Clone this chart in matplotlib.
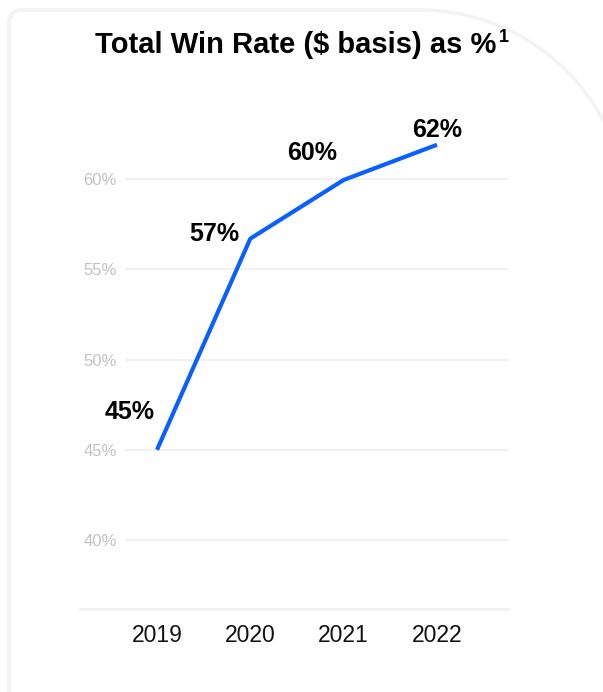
import numpy as np
import matplotlib
matplotlib.use("Agg")
import matplotlib.pyplot as plt
from matplotlib.lines import Line2D

plt.rcParams['font.family'] = ['Liberation Sans', 'DejaVu Sans']

# data
years = ["2019", "2020", "2021", "2022"]
win_rate = [45.0, 56.7, 59.95, 61.9]
point_labels = ["45%", "57%", "60%", "62%"]
y_ticks = [40, 45, 50, 55, 60]
tick_labels = ["40%", "45%", "50%", "55%", "60%"]

# label offsets from points, in pixels (style)
label_offsets = [(-27, 38), (-36, 5), (-32, 27), (0, 15)]

W, H = 603, 692
fig = plt.figure(figsize=(W / 100, H / 100), dpi=100)
fig.patch.set_facecolor("white")

# card outline drawn in pixel space
bg = fig.add_axes([0, 0, 1, 1], zorder=0)
bg.set_xlim(0, W)
bg.set_ylim(H, 0)
bg.axis("off")
card = "#f3f3f3"
r_small = 12
bg.plot([9, 9], [H + 5, 10 + r_small], color=card, lw=3, solid_capstyle="butt")
t = np.linspace(np.pi, 1.5 * np.pi, 20)
bg.plot(9 + r_small + r_small * np.cos(t), 10 + r_small + r_small * np.sin(t), color=card, lw=3)
bg.plot([9 + r_small, 420], [10, 10], color=card, lw=3)
t = np.linspace(-0.5 * np.pi, 0, 60)
bg.plot(420 + 207 * np.cos(t), 217 + 207 * np.sin(t), color=card, lw=2.5)

# main axes
left, right = 125 / W, 508 / W
bottom, top = (H - 609) / H, (H - 100) / H
ax = fig.add_axes([left, bottom, right - left, top - bottom], zorder=1)
ax.patch.set_alpha(0)

x = np.arange(len(years))
ax.plot(x, win_rate, color="#0a5fff", lw=3.0, solid_capstyle="butt", zorder=3)

ax.set_xlim(-0.343, 3.761)
ax.set_ylim(36.18, 64.38)

ax.set_yticks(y_ticks)
ax.set_yticklabels(tick_labels)
ax.set_xticks(x)
ax.set_xticklabels(years)

ax.tick_params(axis="y", length=0, pad=6, labelsize=12, labelcolor="#c2c2c2")
ax.tick_params(axis="x", length=0, pad=11, labelsize=16.5, labelcolor="#111111")

for s in ax.spines.values():
    s.set_visible(False)
ax.grid(axis="y", color="#f1f1f1", lw=1.6)
ax.set_axisbelow(True)

# bottom baseline, longer than the grid
ax.add_line(Line2D([-45 / 383, 1], [0, 0], transform=ax.transAxes,
                   color="#f1f1f1", lw=2, clip_on=False))

for xi, yi, lab, (dx, dy) in zip(x, win_rate, point_labels, label_offsets):
    ax.annotate(lab, (xi, yi), xytext=(dx * 0.72, dy * 0.72), textcoords="offset points",
                ha="center", va="center", fontsize=18, fontweight="bold", color="black")

# title with superscript
title = fig.text(296 / W, 1 - 45 / H, "Total Win Rate ($ basis) as %", ha="center", va="center",
                 fontsize=21, fontweight="bold", color="black")
fig.canvas.draw()
bb = title.get_window_extent()
fig.text(bb.x1 / W + 2 / W, 1 - 37 / H, "1", ha="left", va="center",
         fontsize=13, fontweight="bold", color="black")

fig.savefig("out.png", dpi=100, facecolor="white")
